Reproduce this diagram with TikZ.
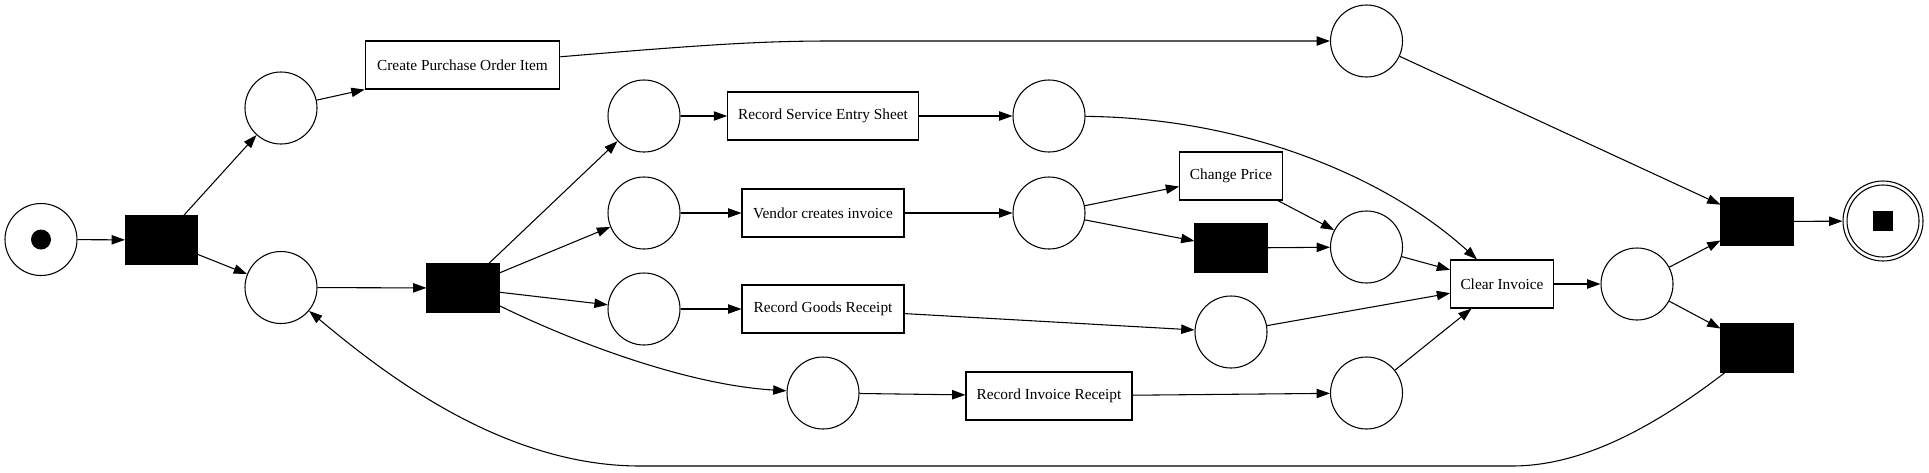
\documentclass[tikz,border=0pt]{standalone}
\usepackage{fontspec}
\setmainfont{Liberation Serif}
\usetikzlibrary{arrows.meta,calc}
\begin{document}
\begin{tikzpicture}[x=0.75pt,y=-0.75pt,
  line width=0.8pt,
  place/.style={circle,draw,minimum size=54pt,inner sep=0pt},
  trans/.style={rectangle,draw,fill=black,minimum width=54pt,minimum height=36pt,inner sep=0pt},
  act/.style={rectangle,draw,minimum height=36pt,inner sep=0pt,font=\fontsize{11.5}{13}\selectfont},
  arr/.style={-{Triangle[length=10pt,width=7pt]}}
]
\useasboundingbox (0,0) rectangle (1929,472);
% places
\node[place] (p0) at (41,239.5) {};
\node[circle,fill=black,minimum size=15pt,inner sep=0pt] (tok) at (p0) {};
\node[place] (p1) at (281,108) {};
\node[place] (p2) at (281,287.5) {};
\node[place] (pA) at (644,116) {};
\node[place] (pB) at (644,213) {};
\node[place] (pC) at (644,309) {};
\node[place] (pD) at (823,393) {};
\node[place] (pE) at (1049,116) {};
\node[place] (pF) at (1049,213) {};
\node[place] (pG) at (1231,332) {};
\node[place] (pTop) at (1366.5,41) {};
\node[place] (pI) at (1366.5,247) {};
\node[place] (pH) at (1366.5,393) {};
\node[place] (pJ) at (1637,284) {};
\node[place,minimum size=60pt] (pend) at (1883,221) {};
\node[place] (pendin) at (pend) {};
\node[rectangle,fill=black,minimum size=14.5pt,inner sep=0pt] (endtok) at (pend) {};
% silent transitions
\node[trans] (t1) at (161.5,240) {};
\node[trans] (t2) at (463,288) {};
\node[trans] (t3) at (1231,248) {};
\node[trans] (t4) at (1757,221.5) {};
\node[trans] (t5) at (1757,348) {};
% activities
\node[act,minimum width=146pt] (cpoi) at (462.5,65) {Create Purchase Order Item};
\node[act,minimum width=143pt] (rses) at (823,116) {Record Service Entry Sheet};
\node[act,minimum width=121.5pt] (vci) at (823,213) {Vendor creates invoice};
\node[act,minimum width=121.5pt] (rgr) at (823,309) {Record Goods Receipt};
\node[act,minimum width=124.5pt] (rir) at (1049,396) {Record Invoice Receipt};
\node[act,minimum width=77pt] (cp) at (1231,176) {Change Price};
\node[act,minimum width=77pt] (ci) at (1502,284) {Clear Invoice};
% arcs
\draw[arr] (p0) -- (t1);
\draw[arr] (t1) -- (p1);
\draw[arr] (t1) -- (p2);
\draw[arr] (p1) -- (cpoi.south west);
\draw[arr] (cpoi) .. controls (700,45) and (760,41) .. (830,41) -- (pTop);
\draw[arr] (p2) -- (t2);
\draw[arr] (t2) -- (pA);
\draw[arr] (t2) -- (pB);
\draw[arr] (t2) -- (pC);
\draw[arr] (t2) .. controls (580,345) and (690,385) .. (pD);
\draw[arr] (pA) -- (rses);
\draw[arr] (rses) -- (pE);
\draw[arr] (pB) -- (vci);
\draw[arr] (vci) -- (pF);
\draw[arr] (pC) -- (rgr);
\draw[arr] (rgr) -- (pG);
\draw[arr] (pD) -- (rir);
\draw[arr] (rir) -- (pH);
\draw[arr] (pF) -- (cp);
\draw[arr] (pF) -- (t3);
\draw[arr] (cp) -- (pI);
\draw[arr] (t3) -- (pI);
\draw[arr] (pE) .. controls (1250,118) and (1390,180) .. ($(ci.north)+(-25,0)$);
\draw[arr] (pI) -- (ci);
\draw[arr] (pG) -- (ci);
\draw[arr] (pH) -- (ci);
\draw[arr] (ci) -- (pJ);
\draw[arr] (pJ) -- (t4);
\draw[arr] (pJ) -- (t5);
\draw[arr] (pTop) -- (t4);
\draw[arr] (t4) -- (pend);
\draw[arr] (t5) .. controls (1650,430) and (1580,466) .. (1512,466) -- (640,466) .. controls (500,466) and (380,370) .. (p2);
\end{tikzpicture}
\end{document}
